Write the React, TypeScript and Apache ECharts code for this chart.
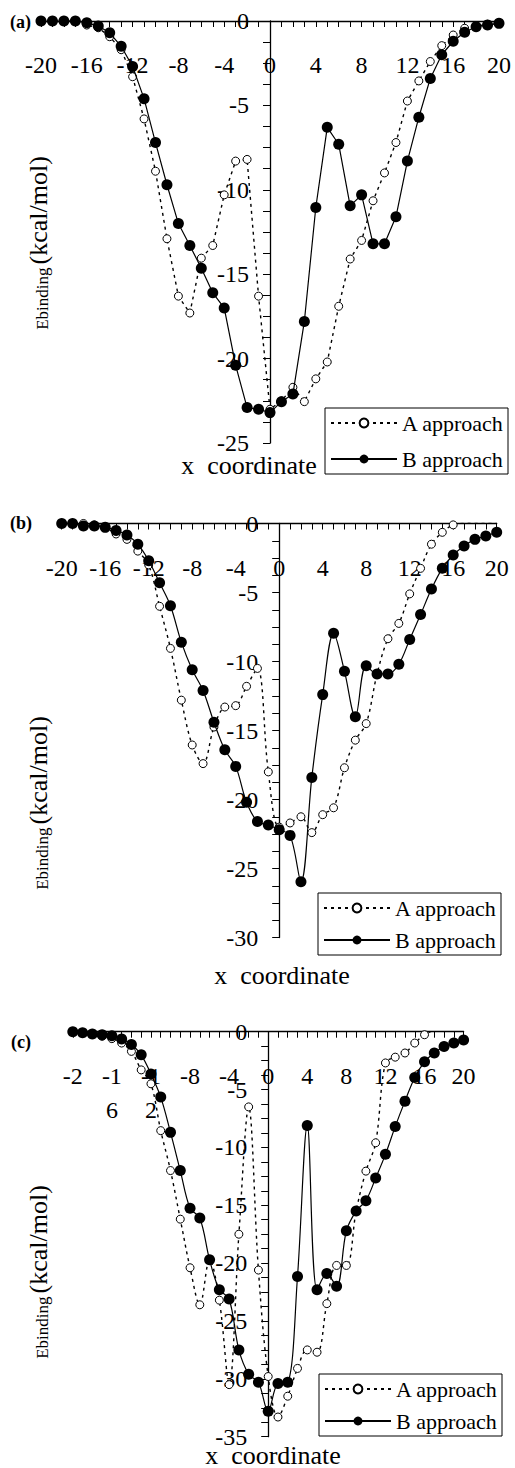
import React, { useEffect, useRef } from "react";
import * as echarts from "echarts";

const FONT = "Liberation Serif";

// x coordinate (shared by all three panels)
const X = [
  -20, -19, -18, -17, -16, -15, -14, -13, -12, -11, -10, -9, -8, -7, -6, -5, -4, -3, -2, -1,
  0, 1, 2, 3, 4, 5, 6, 7, 8, 9, 10, 11, 12, 13, 14, 15, 16, 17, 18, 19, 20,
];

// Panel (a)
const A_a = [
  0, 0, 0, 0, -0.24, -0.4, -0.93, -1.7, -3.3, -5.8, -8.9, -12.9, -16.3, -17.3, -14.05, -13.3, -10.3, -8.3, -8.2, -16.3,
  -23.0, -22.5, -21.7, -22.55, -21.2, -20.2, -16.9, -14.1, -13.0, -10.65, -9.0, -7.2, -4.74, -3.55, -2.4, -1.46, -0.83, -0.43, -0.3, -0.2, -0.1,
];
const B_a = [
  0, 0, 0, 0, -0.1, -0.3, -0.7, -1.5, -2.7, -4.6, -7.2, -9.7, -12.0, -13.3, -14.65, -16.1, -17.0, -20.4, -22.9, -23.0,
  -23.2, -22.55, -22.1, -17.8, -11.05, -6.3, -7.3, -10.95, -10.3, -13.2, -13.2, -11.6, -8.3, -5.7, -3.4, -2.0, -1.2, -0.67, -0.34, -0.24, -0.14,
];

// Panel (b)
const A_b = [
  0, 0, 0, -0.1, -0.3, -0.76, -1.15, -2.0, -3.0, -6.0, -9.05, -12.8, -16.05, -17.4, -14.75, -13.3, -13.2, -11.8, -10.5, -18.0,
  -22.0, -21.7, -21.25, -22.4, -21.1, -20.6, -17.7, -15.7, -14.5, -10.9, -8.35, -7.24, -5.1, -3.25, -1.5, -0.64, -0.1, 0.05, 0.1, 0.1, 0.1,
];
const B_b = [
  0, 0, -0.18, -0.18, -0.28, -0.5, -0.83, -1.5, -2.7, -4.3, -5.96, -8.6, -10.6, -12.1, -14.4, -16.4, -17.6, -20.2, -21.6, -21.85,
  -22.2, -22.6, -25.96, -18.4, -12.4, -7.96, -10.7, -14.0, -10.3, -10.9, -10.9, -10.2, -8.4, -6.6, -4.75, -3.25, -2.28, -1.63, -1.15, -0.9, -0.64,
];

// Panel (c)
const A_c = [
  0, -0.1, -0.2, -0.4, -0.6, -0.98, -1.7, -3.3, -4.5, -8.55, -12.0, -16.2, -20.4, -23.6, -19.7, -23.2, -30.5, -17.5, -6.5, -20.6,
  -29.8, -33.3, -31.5, -29.1, -27.5, -27.7, -23.5, -20.2, -20.2, -15.5, -12.05, -9.6, -2.7, -2.2, -1.84, -0.98, -0.26, 0.06, 0.05, 0.05, 0.05,
];
const B_c = [
  0, -0.1, -0.2, -0.26, -0.35, -0.63, -1.1, -2.0, -3.66, -5.65, -8.7, -12.0, -15.25, -16.1, -19.7, -22.3, -23.1, -27.5, -29.6, -30.3,
  -32.8, -30.4, -30.3, -21.15, -8.1, -22.3, -20.9, -22.0, -17.2, -15.5, -14.6, -12.65, -10.6, -8.2, -6.0, -3.95, -2.6, -1.84, -1.27, -0.98, -0.72,
];

// x positions where the A curve carries no marker (b and c)
const A_NO_MARKER = [18, 19, 20];

// tick labels of panel (c), as printed
const TICK_LABELS_C: Record<string, string> = {
  "-20": "-2",
  "-16": "-1\n6",
  "-12": "-1\n2",
};

const SERIES_NAMES = ["A approach", "B approach"];
const PANEL_TAGS = ["(a)", "(b)", "(c)"];
const Y_MINS = [-25, -30, -35];
const Y_TITLE = "{s|Ebinding} {l|(kcal/mol)}";
const X_TITLE = "x  coordinate";

function buildOption() {
  const grids = [
    { left: 41, top: 21, width: 458, height: 422 },
    { left: 61.7, top: 523.5, width: 435, height: 414 },
    { left: 72.8, top: 1031.7, width: 390.8, height: 405 },
  ];
  const panels = [
    { A: A_a, B: B_a, smooth: false, hide: [] as number[] },
    { A: A_b, B: B_b, smooth: 0.35, hide: A_NO_MARKER },
    { A: A_c, B: B_c, smooth: 0.35, hide: A_NO_MARKER },
  ];
  const legends = [
    { left: 325, top: 408, itemGap: 14 },
    { left: 318, top: 893, itemGap: 10 },
    { left: 319, top: 1374, itemGap: 10 },
  ];
  const xTitles = [
    { x: 249, y: 465 },
    { x: 282, y: 975 },
    { x: 273, y: 1455 },
  ];
  const yTitles = [
    { x: 38, y: 243 },
    { x: 38, y: 803 },
    { x: 38, y: 1272 },
  ];
  const tags = [
    { x: 10, y: 22 },
    { x: 10, y: 523 },
    { x: 11, y: 1042 },
  ];

  const xAxis = grids.map((_, i) => ({
    gridIndex: i,
    type: "value",
    min: -20,
    max: 20,
    interval: 4,
    position: "top",
    axisLine: { show: true, onZero: false, lineStyle: { color: "#000", width: 1.3 } },
    axisTick: { show: true, inside: true, length: 6, lineStyle: { color: "#000", width: 1 } },
    minorTick: { show: true, splitNumber: 4, length: 6, lineStyle: { color: "#000", width: 1 } },
    splitLine: { show: false },
    minorSplitLine: { show: false },
    axisLabel: {
      inside: true,
      color: "#000",
      fontFamily: FONT,
      fontSize: 24,
      lineHeight: 34,
      margin: 27,
      formatter: (v: number) =>
        i === 2 && TICK_LABELS_C[String(v)] !== undefined ? TICK_LABELS_C[String(v)] : String(v),
    },
  }));

  const yAxis = grids.map((g, i) => ({
    gridIndex: i,
    type: "value",
    min: Y_MINS[i],
    max: 0,
    interval: 5,
    position: "left",
    offset: -g.width / 2,
    axisLine: { show: true, onZero: false, lineStyle: { color: "#000", width: 1.3 } },
    axisTick: { show: true, length: 7, lineStyle: { color: "#000", width: 1 } },
    minorTick: { show: true, splitNumber: 4, length: 7, lineStyle: { color: "#000", width: 1 } },
    splitLine: { show: false },
    minorSplitLine: { show: false },
    axisLabel: { color: "#000", fontFamily: FONT, fontSize: 24, margin: 21 },
  }));

  const series: any[] = [];
  panels.forEach((p, i) => {
    series.push({
      name: SERIES_NAMES[0],
      type: "line",
      xAxisIndex: i,
      yAxisIndex: i,
      smooth: p.smooth,
      symbol: "circle",
      symbolSize: 8,
      itemStyle: { color: "#fff", borderColor: "#000", borderWidth: 1 },
      lineStyle: { color: "#000", width: 1.4, type: [3, 4] },
      data: X.map((x, k) =>
        p.hide.indexOf(x) >= 0 ? { value: [x, p.A[k]], symbol: "none" } : [x, p.A[k]]
      ),
      z: 2,
    });
    series.push({
      name: SERIES_NAMES[1],
      type: "line",
      xAxisIndex: i,
      yAxisIndex: i,
      smooth: p.smooth,
      symbol: "circle",
      symbolSize: 11,
      itemStyle: { color: "#000" },
      lineStyle: { color: "#000", width: 1.2 },
      data: X.map((x, k) => [x, p.B[k]]),
      z: 3,
    });
  });

  const legend = legends.map((l) => ({
    left: l.left,
    top: l.top,
    orient: "vertical",
    data: SERIES_NAMES,
    selectedMode: false,
    borderColor: "#000",
    borderWidth: 1,
    borderRadius: 0,
    padding: [4, 4, 4, 5],
    itemGap: l.itemGap,
    itemWidth: 66,
    itemHeight: 11,
    textStyle: { color: "#000", fontFamily: FONT, fontSize: 22 },
  }));

  const graphic: any[] = [];
  for (let i = 0; i < 3; i++) {
    graphic.push({
      type: "text",
      x: tags[i].x,
      y: tags[i].y,
      style: {
        text: PANEL_TAGS[i],
        fontFamily: FONT,
        fontWeight: "bold",
        fontSize: 18,
        fill: "#000",
        verticalAlign: "middle",
        align: "left",
      },
    });
    graphic.push({
      type: "text",
      x: xTitles[i].x,
      y: xTitles[i].y,
      style: {
        text: X_TITLE,
        fontFamily: FONT,
        fontSize: 26,
        fill: "#000",
        align: "center",
        verticalAlign: "middle",
      },
    });
    graphic.push({
      type: "text",
      x: yTitles[i].x,
      y: yTitles[i].y,
      rotation: Math.PI / 2,
      style: {
        text: Y_TITLE,
        fontFamily: FONT,
        fill: "#000",
        align: "center",
        verticalAlign: "middle",
        rich: {
          s: { fontFamily: FONT, fontSize: 17, fill: "#000", verticalAlign: "bottom" },
          l: { fontFamily: FONT, fontSize: 26, fill: "#000", verticalAlign: "bottom" },
        },
      },
    });
  }

  return {
    animation: false,
    backgroundColor: "#fff",
    textStyle: { fontFamily: FONT },
    grid: grids.map((g) => ({ ...g, containLabel: false, outerBoundsMode: "none" })),
    xAxis,
    yAxis,
    legend,
    series,
    graphic,
  };
}

export default function App() {
  const ref = useRef<HTMLDivElement>(null);
  useEffect(() => {
    if (!ref.current) return;
    const chart = echarts.init(ref.current, null, { renderer: "svg" });
    chart.setOption(buildOption() as any);
    return () => chart.dispose();
  }, []);
  return (
    <div
      ref={ref}
      style={{ position: "fixed", left: 0, top: 0, width: 515, height: 1468, background: "#fff" }}
    />
  );
}
